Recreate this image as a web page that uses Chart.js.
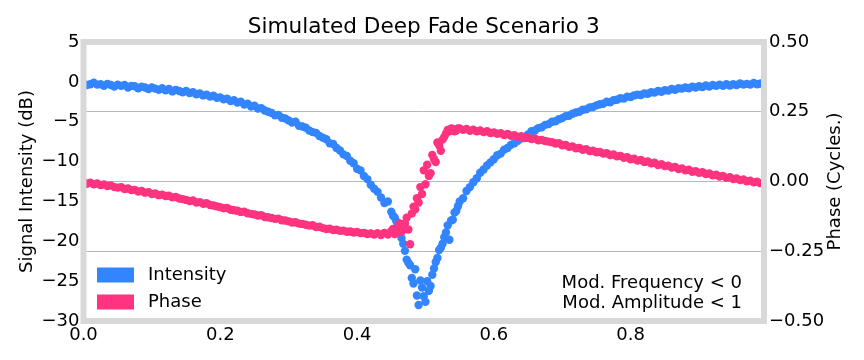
<!DOCTYPE html>
<html>
<head>
<meta charset="utf-8">
<script src="https://cdn.jsdelivr.net/npm/chart.js@4"></script>
<style>
  html, body { margin: 0; padding: 0; background: #fff; }
  #wrap { width: 864px; height: 360px; }
</style>
</head>
<body>
<div id="wrap"><canvas id="fadeChart" width="864" height="360"></canvas></div>
<script>
// sample positions (fraction of sweep)
const xs = [
  0.000,0.005,0.010,0.015,0.020,0.025,0.030,0.035,0.040,0.045,
  0.050,0.055,0.060,0.065,0.070,0.075,0.080,0.085,0.090,0.095,
  0.100,0.105,0.110,0.115,0.120,0.125,0.130,0.135,0.140,0.145,
  0.150,0.155,0.160,0.165,0.170,0.175,0.180,0.185,0.190,0.195,
  0.200,0.205,0.210,0.215,0.220,0.225,0.230,0.235,0.240,0.245,
  0.250,0.255,0.260,0.265,0.270,0.275,0.280,0.285,0.290,0.295,
  0.300,0.305,0.310,0.315,0.320,0.325,0.330,0.335,0.340,0.345,
  0.350,0.355,0.360,0.365,0.370,0.375,0.380,0.385,0.390,0.395,
  0.400,0.405,0.410,0.415,0.420,0.425,0.430,0.435,0.440,0.445,
  0.450,0.455,0.460,0.465,0.470,0.475,0.480,0.485,0.490,0.495,
  0.500,0.505,0.510,0.515,0.520,0.525,0.530,0.535,0.540,0.545,
  0.550,0.555,0.560,0.565,0.570,0.575,0.580,0.585,0.590,0.595,
  0.600,0.605,0.610,0.615,0.620,0.625,0.630,0.635,0.640,0.645,
  0.650,0.655,0.660,0.665,0.670,0.675,0.680,0.685,0.690,0.695,
  0.700,0.705,0.710,0.715,0.720,0.725,0.730,0.735,0.740,0.745,
  0.750,0.755,0.760,0.765,0.770,0.775,0.780,0.785,0.790,0.795,
  0.800,0.805,0.810,0.815,0.820,0.825,0.830,0.835,0.840,0.845,
  0.850,0.855,0.860,0.865,0.870,0.875,0.880,0.885,0.890,0.895,
  0.900,0.905,0.910,0.915,0.920,0.925,0.930,0.935,0.940,0.945,
  0.950,0.955,0.960,0.965,0.970,0.975,0.980,0.985,0.990,0.995
];

// signal intensity in dB
const intensity = [
  -0.2,-0.4,-0.3,-0.1,-0.35,-0.3,-0.5,-0.25,-0.4,-0.6,
  -0.35,-0.5,-0.4,-0.7,-0.5,-0.55,-0.8,-0.6,-0.7,-0.9,
  -0.7,-0.85,-1.0,-0.8,-1.05,-0.9,-1.2,-1.0,-1.15,-1.3,
  -1.15,-1.4,-1.3,-1.55,-1.45,-1.7,-1.6,-1.85,-1.75,-2.0,
  -1.95,-2.2,-2.1,-2.4,-2.3,-2.6,-2.5,-2.85,-2.75,-3.1,
  -3.0,-3.35,-3.3,-3.6,-3.75,-3.9,-4.2,-4.15,-4.5,-4.6,
  -4.85,-5.1,-5.0,-5.5,-5.6,-5.75,-6.1,-6.3,-6.4,-6.8,
  -7.0,-7.2,-7.7,-7.8,-8.3,-8.6,-9.1,-9.3,-9.9,-10.2,
  -10.9,-11.1,-11.8,-12.2,-12.9,-13.4,-13.8,-14.5,-15.2,-15.0,
  -16.3,-17.0,-17.9,-19.6,-21.2,-22.7,-24.6,-23.5,-28.0,-25.8,
  -27.6,-26.2,-24.2,-22.6,-21.1,-20.3,-18.9,-19.8,-17.3,-16.2,
  -15.0,-14.6,-13.7,-13.2,-12.6,-12.1,-11.4,-11.0,-10.5,-10.1,
  -9.7,-9.2,-9.0,-8.5,-8.3,-7.9,-7.7,-7.4,-7.1,-6.9,
  -6.6,-6.2,-6.1,-5.8,-5.7,-5.4,-5.3,-5.0,-4.95,-4.7,
  -4.55,-4.3,-4.25,-4.0,-3.85,-3.75,-3.5,-3.45,-3.2,-3.15,
  -2.95,-2.8,-2.75,-2.5,-2.55,-2.3,-2.25,-2.05,-2.1,-1.85,
  -1.9,-1.7,-1.6,-1.65,-1.45,-1.5,-1.3,-1.35,-1.15,-1.25,
  -1.05,-1.1,-0.9,-1.0,-0.8,-0.85,-0.7,-0.8,-0.6,-0.7,
  -0.55,-0.65,-0.45,-0.6,-0.4,-0.5,-0.35,-0.5,-0.3,-0.45,
  -0.3,-0.4,-0.2,-0.35,-0.25,-0.35,-0.15,-0.3,-0.2,-0.3
];

// phase in cycles
const phase = [
  -0.002,-0.008,-0.004,-0.010,-0.007,-0.013,-0.011,-0.016,-0.014,-0.020,
  -0.022,-0.020,-0.027,-0.025,-0.031,-0.030,-0.036,-0.034,-0.040,-0.038,
  -0.045,-0.043,-0.049,-0.047,-0.052,-0.051,-0.057,-0.055,-0.061,-0.063,
  -0.066,-0.070,-0.068,-0.075,-0.074,-0.080,-0.078,-0.084,-0.086,-0.089,
  -0.092,-0.096,-0.095,-0.101,-0.103,-0.105,-0.109,-0.108,-0.114,-0.116,
  -0.118,-0.122,-0.121,-0.127,-0.128,-0.131,-0.134,-0.133,-0.139,-0.140,
  -0.143,-0.147,-0.146,-0.151,-0.152,-0.155,-0.158,-0.157,-0.163,-0.162,
  -0.167,-0.170,-0.169,-0.174,-0.173,-0.177,-0.176,-0.180,-0.179,-0.183,
  -0.181,-0.185,-0.184,-0.188,-0.186,-0.190,-0.185,-0.192,-0.184,-0.190,
  -0.178,-0.188,-0.165,-0.180,-0.150,-0.172,-0.115,-0.100,-0.075,-0.045,
  -0.010,0.020,0.095,0.070,0.130,0.150,0.172,0.180,0.188,0.183,
  0.190,0.185,0.188,0.182,0.186,0.180,0.183,0.177,0.180,0.174,
  0.176,0.171,0.173,0.167,0.170,0.164,0.166,0.160,0.162,0.156,
  0.157,0.152,0.154,0.148,0.149,0.145,0.143,0.141,0.136,0.137,
  0.130,0.131,0.124,0.126,0.119,0.120,0.114,0.116,0.109,0.110,
  0.105,0.106,0.100,0.101,0.095,0.097,0.090,0.092,0.085,0.087,
  0.080,0.082,0.075,0.077,0.070,0.072,0.065,0.067,0.059,0.062,
  0.055,0.057,0.050,0.052,0.045,0.047,0.040,0.042,0.035,0.037,
  0.031,0.033,0.027,0.029,0.022,0.024,0.018,0.020,0.013,0.015,
  0.009,0.011,0.005,0.007,0.001,0.003,-0.003,-0.001,-0.006,-0.004
];

// extra samples around the fade notch
const dipX = [
  0.4525,0.4575,0.4625,0.4675,0.4725,0.4775,0.4825,0.4875,0.4925,0.4975,
  0.5025,0.5075,0.5125,0.5175,0.5225,0.5275,0.5325,0.5375,0.5425,0.5475
];
const dipIntensity = [
  -16.8,-17.5,-19.0,-20.3,-22.3,-23.0,-25.3,-26.8,-24.9,-26.9,
  -25.0,-25.6,-23.4,-22.1,-20.8,-19.5,-18.0,-17.4,-16.4,-15.6
];
const dipPhase = [
  -0.170,-0.185,-0.150,-0.170,-0.130,-0.225,-0.090,-0.060,-0.020,0.040,
  0.060,0.030,0.080,0.140,0.110,0.160,0.185,0.190,0.180,0.190
];

const xTicks = [0, 0.2, 0.4, 0.6, 0.8];
const dbTicks = [5, 0, -5, -10, -15, -20, -25, -30];
const phaseTicks = [0.5, 0.25, 0, -0.25, -0.5];

const blue = "#3385ff";
const pink = "#ff3380";
const FONT = "'DejaVu Sans', 'Liberation Sans', sans-serif";

function pairs(x, y) {
  return x.map((v, i) => ({ x: v, y: y[i] }));
}
function minus(s) {
  return s.replace("-", "\u2212");
}

const decor = {
  id: "decor",
  afterDraw(chart) {
    const ctx = chart.ctx;
    const a = chart.chartArea;
    ctx.save();

    // frame
    ctx.strokeStyle = "#d8d8d8";
    ctx.lineWidth = 6;
    ctx.strokeRect(a.left, a.top, a.right - a.left, a.bottom - a.top);

    ctx.fillStyle = "#000";
    ctx.textBaseline = "middle";

    // title
    ctx.font = "21.6px " + FONT;
    ctx.textAlign = "center";
    ctx.fillText("Simulated Deep Fade Scenario 3", (a.left + a.right) / 2, 27);

    // axis titles
    ctx.font = "18px " + FONT;
    const midY = (a.top + a.bottom) / 2;
    ctx.save();
    ctx.translate(27, midY);
    ctx.rotate(-Math.PI / 2);
    ctx.fillText("Signal Intensity (dB)", 0, 0);
    ctx.restore();
    ctx.save();
    ctx.translate(835, midY);
    ctx.rotate(-Math.PI / 2);
    ctx.fillText("Phase (Cycles.)", 0, 0);
    ctx.restore();

    // legend
    ctx.textAlign = "left";
    chart.data.datasets.forEach((ds, i) => {
      const y = 275 + i * 27;
      ctx.fillStyle = ds.backgroundColor;
      ctx.fillRect(97, y - 7.5, 37, 15);
      ctx.fillStyle = "#000";
      ctx.fillText(ds.label, 148, y);
    });

    // annotation
    ctx.textAlign = "right";
    ctx.fillText("Mod. Frequency < 0", 742, 283);
    ctx.fillText("Mod. Amplitude < 1", 742, 303);

    ctx.restore();
  }
};

const ctx = document.getElementById("fadeChart").getContext("2d");

new Chart(ctx, {
  type: "scatter",
  data: {
    datasets: [
      {
        label: "Intensity",
        data: pairs(xs, intensity).concat(pairs(dipX, dipIntensity)),
        yAxisID: "y",
        backgroundColor: blue,
        borderWidth: 0,
        pointRadius: 4.2,
        order: 2
      },
      {
        label: "Phase",
        data: pairs(xs, phase).concat(pairs(dipX, dipPhase)),
        yAxisID: "y1",
        backgroundColor: pink,
        borderWidth: 0,
        pointRadius: 4.2,
        order: 1
      }
    ]
  },
  options: {
    responsive: false,
    animation: false,
    devicePixelRatio: 1,
    layout: { padding: { top: 42, left: 0, right: 0, bottom: 0 } },
    plugins: {
      legend: { display: false },
      tooltip: { enabled: false },
      title: { display: false }
    },
    scales: {
      x: {
        type: "linear",
        min: 0,
        max: 0.995,
        grid: { display: false, drawTicks: false },
        border: { display: false },
        afterFit: (s) => { s.height = 39; },
        afterBuildTicks: (s) => { s.ticks = xTicks.map(v => ({ value: v })); },
        ticks: {
          autoSkip: false,
          maxRotation: 0,
          padding: 4,
          color: "#000",
          font: { family: FONT, size: 18 },
          callback: (v) => v.toFixed(1)
        }
      },
      y: {
        position: "left",
        min: -30,
        max: 5,
        grid: { display: false, drawTicks: false },
        border: { display: false },
        afterFit: (s) => { s.width = 83.5; },
        afterBuildTicks: (s) => { s.ticks = dbTicks.map(v => ({ value: v })); },
        ticks: {
          padding: 4,
          color: "#000",
          font: { family: FONT, size: 18 },
          callback: (v) => minus(String(v))
        }
      },
      y1: {
        position: "right",
        min: -0.5,
        max: 0.5,
        grid: { display: true, drawTicks: false, color: "#b8b8b8", lineWidth: 1 },
        border: { display: false },
        afterFit: (s) => { s.width = 100; },
        afterBuildTicks: (s) => { s.ticks = phaseTicks.map(v => ({ value: v })); },
        ticks: {
          padding: 5,
          color: "#000",
          font: { family: FONT, size: 18 },
          callback: (v) => minus(v.toFixed(2))
        }
      }
    }
  },
  plugins: [decor]
});
</script>
</body>
</html>
